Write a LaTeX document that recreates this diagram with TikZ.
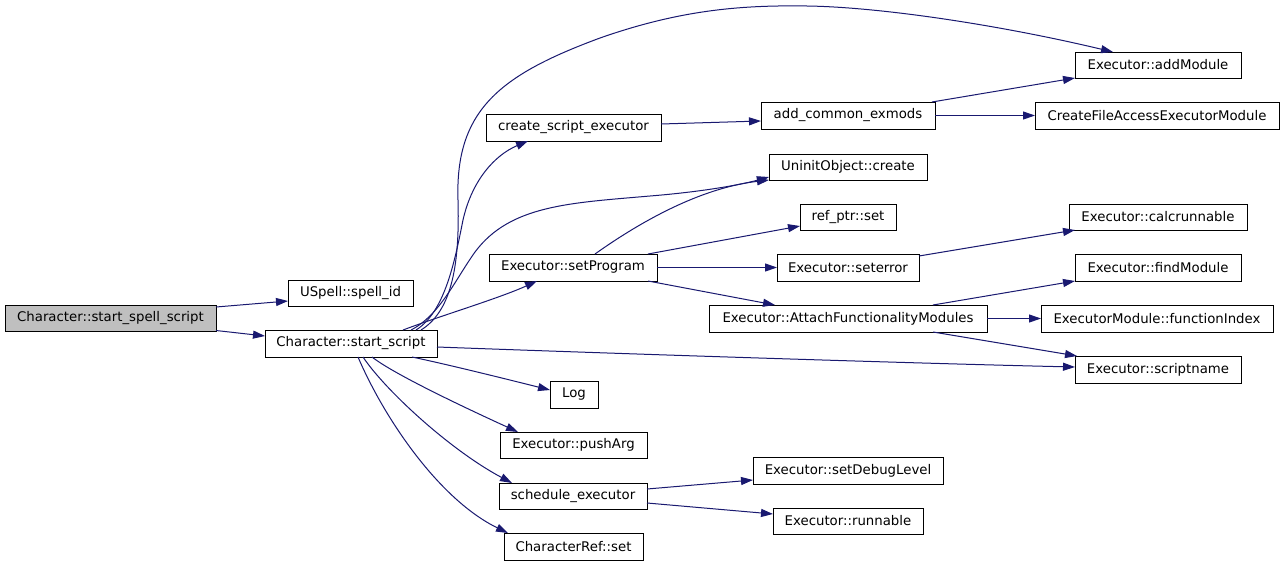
\documentclass[tikz,border=0pt]{standalone}
\usepackage{fontspec}
\setmainfont{DejaVu Sans}
\usetikzlibrary{arrows.meta,calc}
\definecolor{edgeblue}{HTML}{191970}
\definecolor{rootgray}{HTML}{BFBFBF}
\begin{document}
\begin{tikzpicture}[x=1pt,y=-1pt,
  fn/.style={draw=black,line width=1pt,fill=white,inner sep=0pt,outer sep=0pt,
    font=\fontsize{13.3}{16}\selectfont},
  root/.style={fn,fill=rootgray},
  call/.style={draw=edgeblue,line width=1pt,-{Triangle[length=12pt,width=8pt]},fill=none}]
\useasboundingbox[fill=white] (0,0) rectangle (1285,565);
% nodes
\node[root,minimum width=211pt,minimum height=26pt] (ss) at (110.5,318.5) {Character::start\_spell\_script};
\node[fn,minimum width=125pt,minimum height=26pt] (sid) at (350.5,293) {USpell::spell\_id};
\node[fn,minimum width=172pt,minimum height=27pt] (st) at (351,343.5) {Character::start\_script};
\node[fn,minimum width=175pt,minimum height=27pt] (cse) at (573.5,127.5) {create\_script\_executor};
\node[fn,minimum width=174pt,minimum height=27pt] (ace) at (848,115.5) {add\_common\_exmods};
\node[fn,minimum width=166pt,minimum height=26pt] (am) at (1158,65) {Executor::addModule};
\node[fn,minimum width=244pt,minimum height=27pt] (cfa) at (1157,115.5) {CreateFileAccessExecutorModule};
\node[fn,minimum width=158pt,minimum height=26pt] (uoc) at (848,167) {UninitObject::create};
\node[fn,minimum width=96pt,minimum height=26pt] (rps) at (848,217) {ref\_ptr::set};
\node[fn,minimum width=168pt,minimum height=27pt] (sp) at (573,267.5) {Executor::setProgram};
\node[fn,minimum width=142pt,minimum height=27pt] (se) at (848,267.5) {Executor::seterror};
\node[fn,minimum width=178pt,minimum height=26pt] (cr) at (1158,217) {Executor::calcrunnable};
\node[fn,minimum width=166pt,minimum height=27pt] (fm) at (1158,267.5) {Executor::findModule};
\node[fn,minimum width=278pt,minimum height=27pt] (afm) at (848,318.5) {Executor::AttachFunctionalityModules};
\node[fn,minimum width=232pt,minimum height=27pt] (fi) at (1157,318.5) {ExecutorModule::functionIndex};
\node[fn,minimum width=166pt,minimum height=27pt] (sn) at (1158,369.5) {Executor::scriptname};
\node[fn,minimum width=48pt,minimum height=27pt] (log) at (574,394.5) {Log};
\node[fn,minimum width=147pt,minimum height=26pt] (pa) at (573.5,445) {Executor::pushArg};
\node[fn,minimum width=148pt,minimum height=26pt] (sch) at (573,496) {schedule\_executor};
\node[fn,minimum width=139pt,minimum height=27pt] (crs) at (573.5,546.5) {CharacterRef::set};
\node[fn,minimum width=190pt,minimum height=27pt] (sdl) at (848,470.5) {Executor::setDebugLevel};
\node[fn,minimum width=150pt,minimum height=26pt] (run) at (848,521) {Executor::runnable};
% edges
\draw[call] ($(ss.east)+(0,-11.5)$) -- ($(sid.west)+(0,8)$);
\draw[call] ($(ss.east)+(0,12)$) -- ($(st.north west)+(0,6)$);
% from start_script, upward
\draw[call] ($(st.north west)+(138,0)$) .. controls (440,316) and (500,298) .. ($(sp.south west)+(48,0)$);
\draw[call] ($(st.north west)+(146,0)$) .. controls (440,315) and (455,280) .. (475,252)
  .. controls (510,205) and (570,203) .. (650,196)
  .. controls (700,192) and (740,185) .. ($(uoc.south west)+(0,-3)$);
\draw[call] ($(st.north west)+(151,0)$) .. controls (445,312) and (455,260) .. (463,220)
  .. controls (472,180) and (495,155) .. ($(cse.south west)+(42,0)$);
\draw[call] ($(st.north west)+(156,0)$) .. controls (450,312) and (460,270) .. (458,200)
  .. controls (455,110) and (500,75) .. (600,38)
  .. controls (680,10) and (740,5) .. (807,6)
  .. controls (880,7) and (1000,25) .. ($(am.north west)+(38,0)$);
% from start_script, right and downward
\draw[call] ($(st.south east)+(0,-10)$) .. controls (600,353) and (900,363) .. ($(sn.north west)+(0,11)$);
\draw[call] ($(st.south west)+(147,0)$) .. controls (450,365) and (510,380) .. ($(log.north west)+(0,9)$);
\draw[call] ($(st.south west)+(107,0)$) .. controls (395,375) and (470,410) .. ($(pa.north west)+(18,0)$);
\draw[call] ($(st.south west)+(98,0)$) .. controls (385,390) and (450,450) .. ($(sch.north west)+(13,0)$);
\draw[call] ($(st.south west)+(93,0)$) .. controls (385,420) and (440,500) .. ($(crs.north west)+(4,0)$);
% second level
\draw[call] ($(cse.east)+(0,-3.5)$) -- ($(ace.west)+(0,5.5)$);
\draw[call] ($(ace.north east)+(-3,0)$) -- (am.south west);
\draw[call] (ace.east) -- (cfa.west);
\draw[call] ($(sp.north)+(22,0)$) .. controls (640,222) and (700,188) .. ($(uoc.south west)+(0,0)$);
\draw[call] ($(sp.north east)+(-9,0)$) -- ($(rps.south west)+(0,-4)$);
\draw[call] (sp.east) -- (se.west);
\draw[call] ($(sp.south east)+(-9,0)$) -- ($(afm.north west)+(66,0)$);
\draw[call] ($(se.north east)+(0,2)$) -- ($(cr.south west)+(6,0)$);
\draw[call] ($(afm.north east)+(-54,0)$) -- (fm.south west);
\draw[call] (afm.east) -- (fi.west);
\draw[call] ($(afm.south east)+(-54,0)$) -- ($(sn.north west)+(2,0)$);
\draw[call] ($(sch.east)+(0,-7)$) -- ($(sdl.west)+(0,9.5)$);
\draw[call] ($(sch.east)+(0,7)$) -- ($(run.west)+(0,-7)$);
\end{tikzpicture}
\end{document}
